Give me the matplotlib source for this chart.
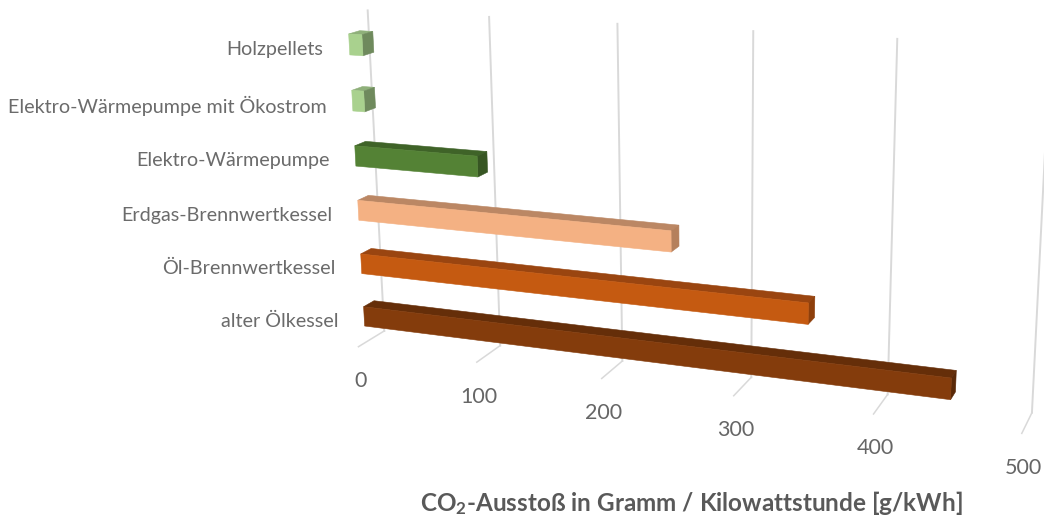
import numpy as np
import matplotlib
matplotlib.use("Agg")
import matplotlib.pyplot as plt
from matplotlib.transforms import Transform

categories = ["alter Ölkessel", "Öl-Brennwertkessel", "Erdgas-Brennwertkessel",
              "Elektro-Wärmepumpe", "Elektro-Wärmepumpe mit Ökostrom", "Holzpellets"]
co2_values = [450, 350, 250, 101, 10, 11]
value_ticks = [0, 100, 200, 300, 400, 500]
xlabel = "CO$_2$-Ausstoß in Gramm / Kilowattstunde [g/kWh]"

front_colors = ["#843C0C", "#C55A11", "#F4B183", "#548235", "#A9D18E", "#A9D18E"]
top_colors = ["#652E09", "#9A4510", "#BB8764", "#3F6328", "#8FB07A", "#8FB07A"]
side_colors = ["#5A2908", "#8E3F0B", "#B5805C", "#375623", "#6F8A5D", "#6F8A5D"]

plt.rcParams['font.family'] = ['Lato', 'DejaVu Sans']
plt.rcParams['mathtext.default'] = 'regular'

W, H = 1044, 519
WALL_HEIGHT = 6
BAR_HEIGHT = 0.37
D_BACK, D_FRONT = 0.33, 0.73

# where the chart box lands in the image: (value, row, depth) -> (px, py)
# depth 0 is the back wall, depth 1 the front edge of the floor
view_points = [
    (0, 6, 0, 367, 10.7), (100, 6, 0, 488.7, 16.7), (200, 6, 0, 617, 24),
    (300, 6, 0, 753.3, 31.7), (400, 6, 0, 897.7, 38.3),
    (0, 0, 0, 384.7, 331.7), (100, 0, 0, 500.3, 345), (200, 0, 0, 622.7, 360.7),
    (300, 0, 0, 751.3, 377.3), (400, 0, 0, 887.7, 394), (500, 0, 0, 1031.7, 413.3),
    (0, 0, 1, 358, 347), (100, 0, 1, 476.7, 362.7), (200, 0, 1, 601.7, 378.7),
    (300, 0, 1, 734, 395.7), (400, 0, 1, 873.3, 414), (500, 0, 1, 1021.7, 433.3),
    (0, 0.315, 0.73, 364, 326), (0, 0.685, 0.73, 364, 305.7),
    (0, 5.315, 0.73, 349.9, 54.3), (0, 5.685, 0.73, 349.7, 34.3),
]


def fit_camera(points):
    rows = []
    for v, r, d, px, py in points:
        X = [v / 500, r / 6, d, 1]
        u, w = px / 1000, py / 1000
        rows.append(X + [0, 0, 0, 0] + [-u * c for c in X])
        rows.append([0, 0, 0, 0] + X + [-w * c for c in X])
    return np.linalg.svd(np.array(rows))[2][-1].reshape(3, 4)


CAMERA = fit_camera(view_points)


class Plane(Transform):
    # 2D data on one plane of the box: fixed axis 0=value, 1=row, 2=depth
    input_dims = 2
    output_dims = 2

    def __init__(self, axis, value):
        super().__init__()
        self.axis = axis
        self.value = value

    def transform_non_affine(self, values):
        pts = np.insert(np.asarray(values, dtype=float), self.axis, self.value, axis=1)
        X = np.column_stack([pts[:, 0] / 500, pts[:, 1] / 6, pts[:, 2], np.ones(len(pts))])
        q = X @ CAMERA.T
        return q[:, :2] / q[:, 2:] * 1000


fig = plt.figure(figsize=(W / 100, H / 100), dpi=100)
ax = fig.add_axes([0, 0, 1, 1])
ax.set_xlim(0, W)
ax.set_ylim(H, 0)
ax.autoscale(False)
ax.axis('off')

wall = Plane(2, 0) + ax.transData
floor = Plane(1, 0) + ax.transData
front = Plane(2, D_FRONT) + ax.transData

# gridlines and their floor ticks
for t in value_ticks:
    ax.plot([t, t], [0, WALL_HEIGHT], color="#D9D9D9", lw=1.4, transform=wall, zorder=1)
    ax.plot([t, t], [0, 1], color="#D9D9D9", lw=1.1, transform=floor, zorder=1)
    ax.annotate(str(t), (t, 1), xycoords=floor, xytext=(2, -34.5), textcoords='offset pixels',
                ha='center', va='center', fontsize=15.5, color="#666666")

rows = np.arange(len(categories)) + 0.5
ax.barh(rows, co2_values, BAR_HEIGHT, color=front_colors, edgecolor=front_colors, lw=0.4,
        transform=front, zorder=4)

for i, val in enumerate(co2_values):
    r0, r1 = rows[i] - BAR_HEIGHT / 2, rows[i] + BAR_HEIGHT / 2
    top = Plane(1, r1) + ax.transData
    side = Plane(0, val) + ax.transData
    ax.fill([0, val, val, 0], [D_FRONT, D_FRONT, D_BACK, D_BACK],
            color=top_colors[i], lw=0.4, transform=top, zorder=3)
    ax.fill([r0, r1, r1, r0], [D_FRONT, D_FRONT, D_BACK, D_BACK],
            color=side_colors[i], lw=0.4, transform=side, zorder=3)
    ax.annotate(categories[i], (0, rows[i]), xycoords=front, xytext=(-26, -5),
                textcoords='offset pixels', ha='right', va='center',
                fontsize=14.2, color="#6B6B6B")

ax.text(691, 503, xlabel, ha='center', va='center', fontsize=17.5,
        fontweight='bold', color="#595959")

fig.savefig("out.png", dpi=100)
